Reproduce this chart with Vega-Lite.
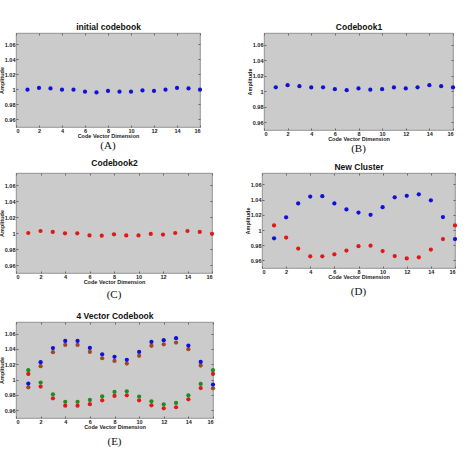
{
  "$schema": "https://vega.github.io/schema/vega-lite/v6.json",
  "padding": {"left": -2, "top": 22, "right": 0, "bottom": 0},
  "background": "white",
  "datasets": {
    "d": [
      {"p":"A","s":"blue","x":1,"y":0.9996},{"p":"A","s":"blue","x":2,"y":1.002},{"p":"A","s":"blue","x":3,"y":1.0013},{"p":"A","s":"blue","x":4,"y":0.9996},{"p":"A","s":"blue","x":5,"y":0.9996},{"p":"A","s":"blue","x":6,"y":0.997},{"p":"A","s":"blue","x":7,"y":0.996},{"p":"A","s":"blue","x":8,"y":0.998},{"p":"A","s":"blue","x":9,"y":0.997},{"p":"A","s":"blue","x":10,"y":0.997},{"p":"A","s":"blue","x":11,"y":0.9987},{"p":"A","s":"blue","x":12,"y":0.998},{"p":"A","s":"blue","x":13,"y":0.9996},{"p":"A","s":"blue","x":14,"y":1.002},{"p":"A","s":"blue","x":15,"y":1.0013},{"p":"A","s":"blue","x":16,"y":0.9996},
      {"p":"B","s":"blue","x":1,"y":1.005},{"p":"B","s":"blue","x":2,"y":1.0078},{"p":"B","s":"blue","x":3,"y":1.0065},{"p":"B","s":"blue","x":4,"y":1.0048},{"p":"B","s":"blue","x":5,"y":1.005},{"p":"B","s":"blue","x":6,"y":1.0026},{"p":"B","s":"blue","x":7,"y":1.0013},{"p":"B","s":"blue","x":8,"y":1.0035},{"p":"B","s":"blue","x":9,"y":1.002},{"p":"B","s":"blue","x":10,"y":1.0026},{"p":"B","s":"blue","x":11,"y":1.0048},{"p":"B","s":"blue","x":12,"y":1.0035},{"p":"B","s":"blue","x":13,"y":1.005},{"p":"B","s":"blue","x":14,"y":1.0078},{"p":"B","s":"blue","x":15,"y":1.0065},{"p":"B","s":"blue","x":16,"y":1.0048},
      {"p":"C","s":"red","x":1,"y":1.0},{"p":"C","s":"red","x":2,"y":1.0025},{"p":"C","s":"red","x":3,"y":1.0013},{"p":"C","s":"red","x":4,"y":0.9996},{"p":"C","s":"red","x":5,"y":0.9996},{"p":"C","s":"red","x":6,"y":0.997},{"p":"C","s":"red","x":7,"y":0.9967},{"p":"C","s":"red","x":8,"y":0.9983},{"p":"C","s":"red","x":9,"y":0.997},{"p":"C","s":"red","x":10,"y":0.997},{"p":"C","s":"red","x":11,"y":0.9988},{"p":"C","s":"red","x":12,"y":0.998},{"p":"C","s":"red","x":13,"y":1.0},{"p":"C","s":"red","x":14,"y":1.0025},{"p":"C","s":"red","x":15,"y":1.0013},{"p":"C","s":"red","x":16,"y":0.999},
      {"p":"D","s":"blue","x":1,"y":0.989},{"p":"D","s":"blue","x":2,"y":1.0167},{"p":"D","s":"blue","x":3,"y":1.035},{"p":"D","s":"blue","x":4,"y":1.044},{"p":"D","s":"blue","x":5,"y":1.0445},{"p":"D","s":"blue","x":6,"y":1.035},{"p":"D","s":"blue","x":7,"y":1.027},{"p":"D","s":"blue","x":8,"y":1.023},{"p":"D","s":"blue","x":9,"y":1.02},{"p":"D","s":"blue","x":10,"y":1.03},{"p":"D","s":"blue","x":11,"y":1.043},{"p":"D","s":"blue","x":12,"y":1.045},{"p":"D","s":"blue","x":13,"y":1.047},{"p":"D","s":"blue","x":14,"y":1.039},{"p":"D","s":"blue","x":15,"y":1.017},{"p":"D","s":"blue","x":16,"y":0.988},
      {"p":"D","s":"red","x":1,"y":1.006},{"p":"D","s":"red","x":2,"y":0.99},{"p":"D","s":"red","x":3,"y":0.9756},{"p":"D","s":"red","x":4,"y":0.9653},{"p":"D","s":"red","x":5,"y":0.9653},{"p":"D","s":"red","x":6,"y":0.968},{"p":"D","s":"red","x":7,"y":0.973},{"p":"D","s":"red","x":8,"y":0.9787},{"p":"D","s":"red","x":9,"y":0.9793},{"p":"D","s":"red","x":10,"y":0.9723},{"p":"D","s":"red","x":11,"y":0.9657},{"p":"D","s":"red","x":12,"y":0.9626},{"p":"D","s":"red","x":13,"y":0.964},{"p":"D","s":"red","x":14,"y":0.9743},{"p":"D","s":"red","x":15,"y":0.988},{"p":"D","s":"red","x":16,"y":1.006},
      {"p":"E","s":"brown","x":1,"y":0.99},{"p":"E","s":"brown","x":2,"y":1.0174},{"p":"E","s":"brown","x":3,"y":1.0357},{"p":"E","s":"brown","x":4,"y":1.0452},{"p":"E","s":"brown","x":5,"y":1.0452},{"p":"E","s":"brown","x":6,"y":1.036},{"p":"E","s":"brown","x":7,"y":1.0278},{"p":"E","s":"brown","x":8,"y":1.0243},{"p":"E","s":"brown","x":9,"y":1.0209},{"p":"E","s":"brown","x":10,"y":1.0309},{"p":"E","s":"brown","x":11,"y":1.044},{"p":"E","s":"brown","x":12,"y":1.046},{"p":"E","s":"brown","x":13,"y":1.0483},{"p":"E","s":"brown","x":14,"y":1.0396},{"p":"E","s":"brown","x":15,"y":1.0183},{"p":"E","s":"brown","x":16,"y":0.9887},
      {"p":"E","s":"blue","x":1,"y":0.9948},{"p":"E","s":"blue","x":2,"y":1.0226},{"p":"E","s":"blue","x":3,"y":1.041},{"p":"E","s":"blue","x":4,"y":1.0504},{"p":"E","s":"blue","x":5,"y":1.0504},{"p":"E","s":"blue","x":6,"y":1.0413},{"p":"E","s":"blue","x":7,"y":1.033},{"p":"E","s":"blue","x":8,"y":1.0296},{"p":"E","s":"blue","x":9,"y":1.0257},{"p":"E","s":"blue","x":10,"y":1.036},{"p":"E","s":"blue","x":11,"y":1.049},{"p":"E","s":"blue","x":12,"y":1.0513},{"p":"E","s":"blue","x":13,"y":1.054},{"p":"E","s":"blue","x":14,"y":1.0443},{"p":"E","s":"blue","x":15,"y":1.023},{"p":"E","s":"blue","x":16,"y":0.9935},
      {"p":"E","s":"red","x":1,"y":1.0074},{"p":"E","s":"red","x":2,"y":0.9909},{"p":"E","s":"red","x":3,"y":0.9757},{"p":"E","s":"red","x":4,"y":0.9661},{"p":"E","s":"red","x":5,"y":0.9661},{"p":"E","s":"red","x":6,"y":0.968},{"p":"E","s":"red","x":7,"y":0.973},{"p":"E","s":"red","x":8,"y":0.9787},{"p":"E","s":"red","x":9,"y":0.9796},{"p":"E","s":"red","x":10,"y":0.973},{"p":"E","s":"red","x":11,"y":0.9665},{"p":"E","s":"red","x":12,"y":0.9626},{"p":"E","s":"red","x":13,"y":0.964},{"p":"E","s":"red","x":14,"y":0.9743},{"p":"E","s":"red","x":15,"y":0.989},{"p":"E","s":"red","x":16,"y":1.0074},
      {"p":"E","s":"green","x":1,"y":1.0122},{"p":"E","s":"green","x":2,"y":0.9961},{"p":"E","s":"green","x":3,"y":0.9809},{"p":"E","s":"green","x":4,"y":0.971},{"p":"E","s":"green","x":5,"y":0.971},{"p":"E","s":"green","x":6,"y":0.9735},{"p":"E","s":"green","x":7,"y":0.9783},{"p":"E","s":"green","x":8,"y":0.984},{"p":"E","s":"green","x":9,"y":0.9848},{"p":"E","s":"green","x":10,"y":0.978},{"p":"E","s":"green","x":11,"y":0.9717},{"p":"E","s":"green","x":12,"y":0.9678},{"p":"E","s":"green","x":13,"y":0.9696},{"p":"E","s":"green","x":14,"y":0.9796},{"p":"E","s":"green","x":15,"y":0.9943},{"p":"E","s":"green","x":16,"y":1.0122}
    ]
  },
  "config": {
    "font": "Liberation Sans",
    "view": {"fill": "#cbcbcb", "stroke": "#808080", "strokeWidth": 0.8},
    "axis": {"labelFontSize": 5.5, "labelFontWeight": "bold", "labelColor": "#222", "titleFontSize": 5.5, "titleColor": "#222", "titleFontWeight": "bold", "domain": false, "grid": false, "tickSize": -2, "tickColor": "#666", "labelPadding": 3, "titlePadding": 0},
    "title": {"font": "Liberation Serif", "fontSize": 11, "fontWeight": "normal", "color": "#111", "orient": "bottom", "offset": 1},
    "concat": {"spacing": 10}
  },
  "vconcat": [
    {
      "spacing": 3,
      "vconcat": [
        {
          "spacing": 42,
          "hconcat": [
            {
              "width": 184, "height": 94,
              "title": {"text": "(A)"},
              "data": {"name": "d"},
              "transform": [{"filter": "datum.p === 'A'"}],
              "layer": [
                {"mark": {"type": "circle", "size": 18, "opacity": 1},
                 "encoding": {
                   "x": {"field": "x", "type": "quantitative", "scale": {"domain": [0, 16], "nice": false}, "axis": {"values": [0,2,4,6,8,10,12,14,16], "title": "Code Vector Dimension"}},
                   "y": {"field": "y", "type": "quantitative", "scale": {"domain": [0.95, 1.075], "nice": false, "zero": false}, "axis": {"values": [0.96,0.98,1,1.02,1.04,1.06], "format": ".2~f", "title": "Amplitude"}},
                   "color": {"field": "s", "type": "nominal", "scale": {"domain": ["blue","brown","red","green"], "range": ["#1010d8","#9c4a26","#e01818","#1f8c1f"]}, "legend": null}}},
                {"mark": {"type": "circle", "opacity": 0},
                 "encoding": {
                   "x": {"field": "x", "type": "quantitative", "axis": {"orient": "top", "values": [0,2,4,6,8,10,12,14,16], "labels": false, "title": "initial codebook", "titleFontSize": 8.5, "titlePadding": 1, "titleColor": "#111"}},
                   "y": {"field": "y", "type": "quantitative", "axis": {"orient": "right", "values": [0.96,0.98,1,1.02,1.04,1.06], "labels": false, "title": null}}}}
              ],
              "resolve": {"axis": {"x": "independent", "y": "independent"}}
            },
            {
              "width": 189, "height": 97,
              "title": {"text": "(B)"},
              "data": {"name": "d"},
              "transform": [{"filter": "datum.p === 'B'"}],
              "layer": [
                {"mark": {"type": "circle", "size": 18, "opacity": 1},
                 "encoding": {
                   "x": {"field": "x", "type": "quantitative", "scale": {"domain": [0, 16], "nice": false}, "axis": {"values": [0,2,4,6,8,10,12,14,16], "title": "Code Vector Dimension"}},
                   "y": {"field": "y", "type": "quantitative", "scale": {"domain": [0.95, 1.075], "nice": false, "zero": false}, "axis": {"values": [0.96,0.98,1,1.02,1.04,1.06], "format": ".2~f", "title": "Amplitude"}},
                   "color": {"field": "s", "type": "nominal", "scale": {"domain": ["blue","brown","red","green"], "range": ["#1010d8","#9c4a26","#e01818","#1f8c1f"]}, "legend": null}}},
                {"mark": {"type": "circle", "opacity": 0},
                 "encoding": {
                   "x": {"field": "x", "type": "quantitative", "axis": {"orient": "top", "values": [0,2,4,6,8,10,12,14,16], "labels": false, "title": "Codebook1", "titleFontSize": 8.5, "titlePadding": 1, "titleColor": "#111"}},
                   "y": {"field": "y", "type": "quantitative", "axis": {"orient": "right", "values": [0.96,0.98,1,1.02,1.04,1.06], "labels": false, "title": null}}}}
              ],
              "resolve": {"axis": {"x": "independent", "y": "independent"}}
            }
          ]
        },
        {
          "spacing": 28,
          "hconcat": [
            {
              "width": 196, "height": 100,
              "title": {"text": "(C)", "offset": 4},
              "data": {"name": "d"},
              "transform": [{"filter": "datum.p === 'C'"}],
              "layer": [
                {"mark": {"type": "circle", "size": 18, "opacity": 1},
                 "encoding": {
                   "x": {"field": "x", "type": "quantitative", "scale": {"domain": [0, 16], "nice": false}, "axis": {"values": [0,2,4,6,8,10,12,14,16], "title": "Code Vector Dimension"}},
                   "y": {"field": "y", "type": "quantitative", "scale": {"domain": [0.95, 1.075], "nice": false, "zero": false}, "axis": {"values": [0.96,0.98,1,1.02,1.04,1.06], "format": ".2~f", "title": "Amplitude"}},
                   "color": {"field": "s", "type": "nominal", "scale": {"domain": ["blue","brown","red","green"], "range": ["#1010d8","#9c4a26","#e01818","#1f8c1f"]}, "legend": null}}},
                {"mark": {"type": "circle", "opacity": 0},
                 "encoding": {
                   "x": {"field": "x", "type": "quantitative", "axis": {"orient": "top", "values": [0,2,4,6,8,10,12,14,16], "labels": false, "title": "Codebook2", "titleFontSize": 8.5, "titlePadding": 5, "titleColor": "#111"}},
                   "y": {"field": "y", "type": "quantitative", "axis": {"orient": "right", "values": [0.96,0.98,1,1.02,1.04,1.06], "labels": false, "title": null}}}}
              ],
              "resolve": {"axis": {"x": "independent", "y": "independent"}}
            },
            {
              "width": 193, "height": 95,
              "title": {"text": "(D)", "offset": 6},
              "data": {"name": "d"},
              "transform": [{"filter": "datum.p === 'D'"}],
              "layer": [
                {"mark": {"type": "circle", "size": 18, "opacity": 1},
                 "encoding": {
                   "x": {"field": "x", "type": "quantitative", "scale": {"domain": [0, 16], "nice": false}, "axis": {"values": [0,2,4,6,8,10,12,14,16], "title": "Code Vector Dimension"}},
                   "y": {"field": "y", "type": "quantitative", "scale": {"domain": [0.95, 1.075], "nice": false, "zero": false}, "axis": {"values": [0.96,0.98,1,1.02,1.04,1.06], "format": ".2~f", "title": "Amplitude"}},
                   "color": {"field": "s", "type": "nominal", "scale": {"domain": ["blue","brown","red","green"], "range": ["#1010d8","#9c4a26","#e01818","#1f8c1f"]}, "legend": null}}},
                {"mark": {"type": "circle", "opacity": 0},
                 "encoding": {
                   "x": {"field": "x", "type": "quantitative", "axis": {"orient": "top", "values": [0,2,4,6,8,10,12,14,16], "labels": false, "title": "New Cluster", "titleFontSize": 8.5, "titlePadding": 1, "titleColor": "#111"}},
                   "y": {"field": "y", "type": "quantitative", "axis": {"orient": "right", "values": [0.96,0.98,1,1.02,1.04,1.06], "labels": false, "title": null}}}}
              ],
              "resolve": {"axis": {"x": "independent", "y": "independent"}}
            }
          ]
        }
      ]
    },
    {
      "hconcat": [
        {
          "width": 197, "height": 96,
          "title": {"text": "(E)", "offset": 6},
          "data": {"name": "d"},
          "transform": [{"filter": "datum.p === 'E'"}],
          "layer": [
            {"mark": {"type": "circle", "size": 18, "opacity": 1},
             "encoding": {
               "x": {"field": "x", "type": "quantitative", "scale": {"domain": [0, 16], "nice": false}, "axis": {"values": [0,2,4,6,8,10,12,14,16], "title": "Code Vector Dimension"}},
               "y": {"field": "y", "type": "quantitative", "scale": {"domain": [0.95, 1.075], "nice": false, "zero": false}, "axis": {"values": [0.96,0.98,1,1.02,1.04,1.06], "format": ".2~f", "title": "Amplitude"}},
               "color": {"field": "s", "type": "nominal", "scale": {"domain": ["blue","brown","red","green"], "range": ["#1010d8","#9c4a26","#e01818","#1f8c1f"]}, "legend": null}}},
            {"mark": {"type": "circle", "opacity": 0},
             "encoding": {
               "x": {"field": "x", "type": "quantitative", "axis": {"orient": "top", "values": [0,2,4,6,8,10,12,14,16], "labels": false, "title": "4 Vector Codebook", "titleFontSize": 8.5, "titlePadding": 1, "titleColor": "#111"}},
               "y": {"field": "y", "type": "quantitative", "axis": {"orient": "right", "values": [0.96,0.98,1,1.02,1.04,1.06], "labels": false, "title": null}}}}
          ],
          "resolve": {"axis": {"x": "independent", "y": "independent"}}
        }
      ]
    }
  ],
  "spacing": 10
}
